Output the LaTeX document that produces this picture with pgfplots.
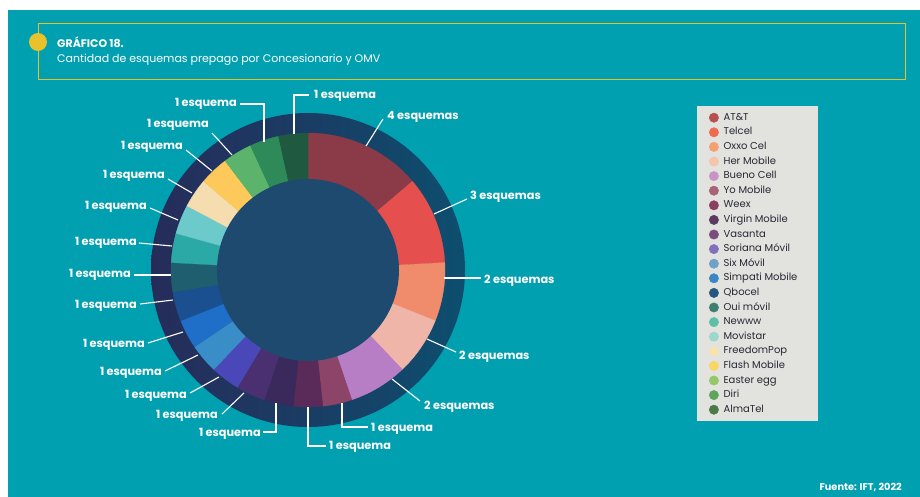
\documentclass[border=0pt]{standalone}
\usepackage{pgfplots}
\pgfplotsset{compat=1.18}
\usepackage{pgfplotstable}
\usepackage{fontspec}
\setmainfont{Poppins}

\definecolor{bgteal}{RGB}{0,160,176}
\definecolor{ttlyel}{RGB}{232,194,42}
\definecolor{legbg}{RGB}{226,226,222}
\definecolor{legtxt}{RGB}{40,40,55}
\definecolor{inner}{RGB}{31,74,112}
\definecolor{ringL}{RGB}{38,44,90}
\definecolor{ringR}{RGB}{13,78,110}
% donut segment colours
\definecolor{seg0}{HTML}{8B3A48}
\definecolor{seg1}{HTML}{E5504E}
\definecolor{seg2}{HTML}{F08C6C}
\definecolor{seg3}{HTML}{EFB5A8}
\definecolor{seg4}{HTML}{B87EC5}
\definecolor{seg5}{HTML}{8C4468}
\definecolor{seg6}{HTML}{5A2A58}
\definecolor{seg7}{HTML}{3A2A5C}
\definecolor{seg8}{HTML}{4A3070}
\definecolor{seg9}{HTML}{4A48B8}
\definecolor{seg10}{HTML}{3A8EC8}
\definecolor{seg11}{HTML}{1F6FC8}
\definecolor{seg12}{HTML}{1A4F90}
\definecolor{seg13}{HTML}{1F5E6E}
\definecolor{seg14}{HTML}{2BA9A6}
\definecolor{seg15}{HTML}{6CCACB}
\definecolor{seg16}{HTML}{F5DDB0}
\definecolor{seg17}{HTML}{FCC95A}
\definecolor{seg18}{HTML}{5CB46C}
\definecolor{seg19}{HTML}{2E8A58}
\definecolor{seg20}{HTML}{1F5A40}
% legend colours
\definecolor{lg0}{HTML}{B5524F}
\definecolor{lg1}{HTML}{EF6A50}
\definecolor{lg2}{HTML}{F4A070}
\definecolor{lg3}{HTML}{F5C4AD}
\definecolor{lg4}{HTML}{C993C8}
\definecolor{lg5}{HTML}{A86476}
\definecolor{lg6}{HTML}{8A3F5E}
\definecolor{lg7}{HTML}{5A3A5E}
\definecolor{lg8}{HTML}{7A4E7A}
\definecolor{lg9}{HTML}{8270BB}
\definecolor{lg10}{HTML}{6FA0C8}
\definecolor{lg11}{HTML}{3D86C6}
\definecolor{lg12}{HTML}{28557E}
\definecolor{lg13}{HTML}{3F7F72}
\definecolor{lg14}{HTML}{5CBFA8}
\definecolor{lg15}{HTML}{9DD6CC}
\definecolor{lg16}{HTML}{F8E3B0}
\definecolor{lg17}{HTML}{FCD663}
\definecolor{lg18}{HTML}{96C76A}
\definecolor{lg19}{HTML}{5EA55B}
\definecolor{lg20}{HTML}{497A48}

% esquemas per operator (AT&T ... AlmaTel)
\pgfplotstableread{
value
4
3
2
2
2
1
1
1
1
1
1
1
1
1
1
1
1
1
1
1
1
}\esquemas

\newcommand{\lbl}{\fontsize{11.3}{13}\selectfont\bfseries}

\begin{document}
\begin{tikzpicture}
\begin{axis}[
  width=920pt, height=497pt, scale only axis,
  xmin=0, xmax=920, ymin=0, ymax=497, y dir=reverse,
  hide axis, clip=false,
  legend style={at={(axis cs:697,106)}, anchor=north west, fill=legbg, draw=none,
    font=\fontsize{10}{11}\selectfont, text=legtxt, row sep=4.6pt,
    inner xsep=12pt, inner ysep=6.5pt,
    nodes={inner sep=0pt, text height=7.5pt, text depth=2.5pt},
    /tikz/every odd column/.append style={column sep=5pt}},
  legend cell align=left,
]
% background
\fill[white] (axis cs:0,0) rectangle (axis cs:920,497);
\fill[bgteal] (axis cs:8,10) rectangle (axis cs:920,497);
% title box
\draw[ttlyel, line width=1pt] (axis cs:38,24) rectangle (axis cs:905,80);
\fill[ttlyel] (axis cs:38,42) circle[radius=9pt];
\node[anchor=base west, text=white, font=\fontsize{11}{13}\selectfont\bfseries, inner sep=0pt] at (axis cs:57,48) {GRÁFICO 18.};
\node[anchor=base west, text=white, font=\fontsize{11}{13}\selectfont, inner sep=0pt] at (axis cs:57,63) {Cantidad de esquemas prepago por Concesionario y OMV};
% outer dark ring
\shade[left color=ringL, right color=ringR] (axis cs:308,270) circle[radius=157pt];

% donut segments
\def\cum{0}
\pgfplotsforeachungrouped \i in {0,...,20}{%
  \pgfplotstablegetelem{\i}{value}\of\esquemas
  \pgfmathsetmacro\angA{90-360*\cum/29}%
  \pgfmathsetmacro\cum{\cum+\pgfplotsretval}%
  \pgfmathsetmacro\angB{90-360*\cum/29}%
  \edef\temp{\noexpand\addplot[fill=seg\i, draw=seg\i, line width=0.3pt, forget plot, domain=\angB:\angA, samples=30]
    ({308+137*cos(x)},{270-137*sin(x)}) -- (axis cs:308,270) -- cycle;}%
  \temp
}
% inner disc
\fill[inner] (axis cs:308,270) circle[radius=91pt];

% leader lines
\begin{scope}[white, line width=1.1pt]
\draw (axis cs:366,146) -- (axis cs:383,119);
\draw (axis cs:434,214) -- (axis cs:467,199);
\draw (axis cs:444,278) -- (axis cs:481,278);
\draw (axis cs:427,339) -- (axis cs:456,352);
\draw (axis cs:392,379) -- (axis cs:420,401);
\draw (axis cs:342,403) -- (axis cs:342,427) -- (axis cs:368,427);
\draw (axis cs:308,407) -- (axis cs:308,446) -- (axis cs:326,446);
\draw (axis cs:276,403) -- (axis cs:276,432) -- (axis cs:263,432);
\draw (axis cs:244,393) -- (axis cs:222,414);
\draw (axis cs:219,377) -- (axis cs:190,393);
\draw (axis cs:198,355) -- (axis cs:165,371);
\draw (axis cs:183,332) -- (axis cs:148,343);
\draw (axis cs:173,300) -- (axis cs:140,304);
\draw (axis cs:171,275) -- (axis cs:134,275);
\draw (axis cs:172,246) -- (axis cs:139,243);
\draw (axis cs:178,220) -- (axis cs:150,208);
\draw (axis cs:192,193) -- (axis cs:168,179);
\draw (axis cs:212,171) -- (axis cs:186,150);
\draw (axis cs:232,155) -- (axis cs:212,133);
\draw (axis cs:264,142) -- (axis cs:264,104) -- (axis cs:240,104);
\draw (axis cs:294,134) -- (axis cs:294,95) -- (axis cs:309,95);
\end{scope}

% labels
\begin{scope}[every node/.style={text=white, font=\lbl, inner sep=0pt}]
\node[anchor=west] at (axis cs:387,117) {4 esquemas};
\node[anchor=west] at (axis cs:470,197) {3 esquemas};
\node[anchor=west] at (axis cs:484,281) {2 esquemas};
\node[anchor=west] at (axis cs:459,357) {2 esquemas};
\node[anchor=west] at (axis cs:424,407) {2 esquemas};
\node[anchor=west] at (axis cs:371,429) {1 esquema};
\node[anchor=west] at (axis cs:329,447) {1 esquema};
\node[anchor=east] at (axis cs:261,434) {1 esquema};
\node[anchor=east] at (axis cs:218,416) {1 esquema};
\node[anchor=east] at (axis cs:187,396) {1 esquema};
\node[anchor=east] at (axis cs:162,373) {1 esquema};
\node[anchor=east] at (axis cs:145,345) {1 esquema};
\node[anchor=east] at (axis cs:137,306) {1 esquema};
\node[anchor=east] at (axis cs:131,275) {1 esquema};
\node[anchor=east] at (axis cs:137,243) {1 esquema};
\node[anchor=east] at (axis cs:147,207) {1 esquema};
\node[anchor=east] at (axis cs:165,176) {1 esquema};
\node[anchor=east] at (axis cs:183,147) {1 esquema};
\node[anchor=east] at (axis cs:209,125) {1 esquema};
\node[anchor=east] at (axis cs:237,104) {1 esquema};
\node[anchor=west] at (axis cs:314,96) {1 esquema};
\end{scope}

\node[anchor=base east, text=white, font=\fontsize{9.8}{11}\selectfont\bfseries, inner sep=0pt] at (axis cs:902,490) {Fuente: IFT, 2022};

% legend
\pgfplotsforeachungrouped \j in {0,...,20}{%
  \edef\temp{\noexpand\addlegendimage{only marks, mark=*, mark size=4.7pt, mark options={draw=lg\j, fill=lg\j}}}%
  \temp
}
\legend{AT\&T,Telcel,Oxxo Cel,Her Mobile,Bueno Cell,Yo Mobile,Weex,Virgin Mobile,Vasanta,Soriana Móvil,Six Móvil,Simpati Mobile,Qbocel,Oui móvil,Newww,Movistar,FreedomPop,Flash Mobile,Easter egg,Diri,\makebox[82pt][l]{AlmaTel}}
\end{axis}
\end{tikzpicture}
\end{document}
